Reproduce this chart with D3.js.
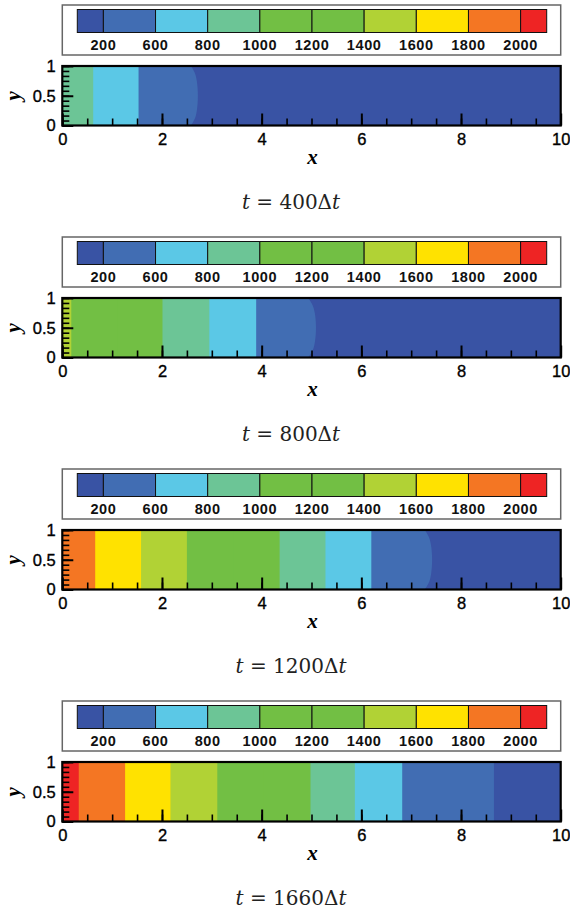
<!DOCTYPE html>
<html>
<head>
<meta charset="utf-8">
<script src="https://cdn.jsdelivr.net/npm/d3@7"></script>
<style>
  html, body { margin: 0; padding: 0; background: #fff; }
  svg { display: block; }
</style>
</head>
<body>
<svg id="chart" width="570" height="910"></svg>
<script>
  // ---- data ----
  const levelColors = ["#3953a4", "#416db3", "#5bc8e6", "#6cc596", "#72bf44",
                       "#72bf44", "#b1d235", "#ffe200", "#f47623", "#ee2424"];
  const cbTickLabels = ["200", "600", "800", "1000", "1200", "1400", "1600", "1800", "2000"];
  const stepCounts = ["400", "800", "1200", "1660"];

  // band levels from x=0 rightwards, and right edges of each band (last band runs to x=10)
  const levels400 = [3, 2, 1, 0];
  const edges400 = [0.62, 1.53, 2.58];
  const levels800 = [6, 5, 4, 3, 2, 1, 0];
  const edges800 = [0.18, 1.1, 2.01, 2.95, 3.89, 4.93];
  const levels1200 = [8, 7, 6, 5, 4, 3, 2, 1, 0];
  const edges1200 = [0.66, 1.58, 2.5, 3.43, 4.36, 5.28, 6.2, 7.27];
  const levels1660 = [9, 8, 7, 6, 5, 4, 3, 2, 1, 0];
  const edges1660 = [0.33, 1.26, 2.17, 3.11, 4.03, 4.98, 5.87, 6.82, 8.66];
  // how far the leading front bulges at mid height (x units)
  const frontBulge = [0.14, 0.16, 0.15, 0];
  // front profile: [y, fraction of bulge]
  const frontShape = [[1, 0], [0.9, 0.5], [0.75, 0.85], [0.5, 1], [0.25, 0.85], [0.1, 0.5], [0, 0]];

  const panelLevels = [levels400, levels800, levels1200, levels1660];
  const panelEdges = [edges400, edges800, edges1200, edges1660];

  // ---- layout ----
  const svg = d3.select("#chart");
  const plotLeft = 62.3, plotRight = 560.7;
  const cbLeft = 77.3, cbRight = 546.7;
  const panelStep = 232;

  const x = d3.scaleLinear().domain([0, 10]).range([plotLeft, plotRight]);
  const cbX = d3.scaleLinear().domain([0.5, levelColors.length - 0.5]).range([cbLeft, cbRight]);

  stepCounts.forEach((n, p) => {
    const top = 5 + p * panelStep;
    const g = svg.append("g");

    // colorbar legend box
    g.append("rect")
      .attr("x", plotLeft).attr("y", top)
      .attr("width", plotRight - plotLeft).attr("height", 50)
      .attr("fill", "#fff").attr("stroke", "#666").attr("stroke-width", 1.5);

    levelColors.forEach((c, i) => {
      const a = Math.max(i, 0.5), b = Math.min(i + 1, levelColors.length - 0.5);
      g.append("rect")
        .attr("x", cbX(a)).attr("y", top + 4.5)
        .attr("width", cbX(b) - cbX(a)).attr("height", 23)
        .attr("fill", c).attr("stroke", "#111").attr("stroke-width", 1);
    });

    g.selectAll(".cblab").data(cbTickLabels).enter().append("text")
      .attr("class", "cblab")
      .attr("x", (d, i) => cbX(i + 1))
      .attr("y", top + 44.5)
      .attr("text-anchor", "middle")
      .attr("font-family", "Liberation Sans, Arial, sans-serif")
      .attr("font-weight", "bold").attr("font-size", 14.5)
      .attr("letter-spacing", 0.6)
      .attr("fill", "#111")
      .text(d => d);

    // contour plot
    const pTop = top + 61, pBot = top + 120.5;
    const y = d3.scaleLinear().domain([0, 1]).range([pBot, pTop]);
    const levels = panelLevels[p], edges = panelEdges[p];

    g.append("rect")
      .attr("x", x(0)).attr("y", y(1))
      .attr("width", x(10) - x(0)).attr("height", y(0) - y(1))
      .attr("fill", levelColors[levels[levels.length - 1]]);

    const frontLine = d3.line().x(d => x(d[0])).y(d => y(d[1])).curve(d3.curveNatural);
    for (let k = edges.length - 1; k >= 0; k--) {
      const col = levelColors[levels[k]];
      if (k === edges.length - 1 && frontBulge[p] > 0) {
        const pts = frontShape.map(s => [edges[k] + s[1] * frontBulge[p], s[0]]);
        g.append("path")
          .attr("d", frontLine(pts) + `L${x(0)},${y(0)}L${x(0)},${y(1)}Z`)
          .attr("fill", col);
      } else {
        g.append("rect")
          .attr("x", x(0)).attr("y", y(1))
          .attr("width", x(edges[k]) - x(0)).attr("height", y(0) - y(1))
          .attr("fill", col);
      }
    }

    // axes with inward ticks
    const tickFont = "Liberation Sans, Arial, sans-serif";
    const xMinor = g.append("g").attr("transform", `translate(0,${pBot})`)
      .call(d3.axisBottom(x).tickValues(d3.range(0, 10.01, 0.5)).tickSize(-7).tickFormat(""));
    const xMajor = g.append("g").attr("transform", `translate(0,${pBot})`)
      .call(d3.axisBottom(x).tickValues([0, 2, 4, 6, 8, 10]).tickSize(-12).tickPadding(8)
        .tickFormat(d3.format("d")));
    const yMinor = g.append("g").attr("transform", `translate(${plotLeft},0)`)
      .call(d3.axisLeft(y).tickValues(d3.range(0, 12.5, 1).map(v => v / 12)).tickSize(-7).tickFormat(""));
    const yMajor = g.append("g").attr("transform", `translate(${plotLeft},0)`)
      .call(d3.axisLeft(y).tickValues([0, 0.5, 1]).tickSize(-11).tickPadding(6.5)
        .tickFormat(d => d === 0.5 ? "0.5" : d3.format("d")(d)));

    [xMinor, xMajor, yMinor, yMajor].forEach(a => {
      a.select(".domain").remove();
      a.selectAll("line").attr("stroke", "#000").attr("stroke-width", 1.6);
      a.selectAll("text").attr("font-family", tickFont).attr("font-size", 16.5)
        .attr("fill", "#000").attr("stroke", "#000").attr("stroke-width", 0.35);
    });
    xMajor.selectAll("line").attr("stroke-width", 2);
    yMajor.selectAll("line").attr("stroke-width", 2);

    g.append("rect")
      .attr("x", x(0)).attr("y", y(1))
      .attr("width", x(10) - x(0)).attr("height", y(0) - y(1))
      .attr("fill", "none").attr("stroke", "#000").attr("stroke-width", 2.2);

    // axis titles
    g.append("text")
      .attr("x", (plotLeft + plotRight) / 2 + 1).attr("y", top + 159)
      .attr("text-anchor", "middle")
      .attr("font-family", "Liberation Serif, Times New Roman, serif")
      .attr("font-style", "italic").attr("font-weight", "bold").attr("font-size", 21)
      .text("x");
    g.append("text")
      .attr("transform", `translate(${20},${(pTop + pBot) / 2}) rotate(-90)`)
      .attr("text-anchor", "middle")
      .attr("font-family", "Liberation Serif, Times New Roman, serif")
      .attr("font-style", "italic").attr("font-weight", "bold").attr("font-size", 21)
      .text("y");

    // caption
    const cap = g.append("text")
      .attr("x", 291).attr("y", top + 203.5)
      .attr("text-anchor", "middle")
      .attr("font-family", "DejaVu Serif, serif")
      .attr("font-size", 20).attr("fill", "#222");
    cap.append("tspan").attr("font-style", "italic").text("t");
    cap.append("tspan").text(" = " + n + "Δ");
    cap.append("tspan").attr("font-style", "italic").text("t");
  });
</script>
</body>
</html>
